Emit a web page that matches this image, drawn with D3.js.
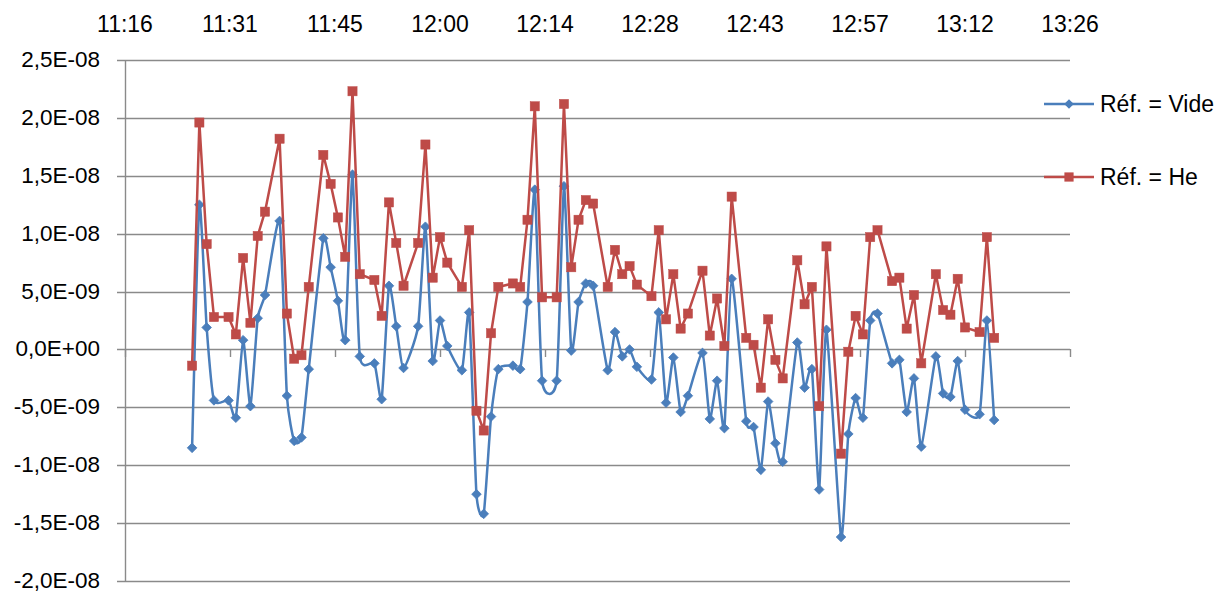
<!DOCTYPE html>
<html><head><meta charset="utf-8">
<script src="https://cdn.jsdelivr.net/npm/d3@7"></script>
<style>body{margin:0;background:#fff}svg{display:block}text{font-family:"Liberation Sans",Arial,sans-serif}</style>
</head><body><svg id="c" width="1217" height="592"></svg>
<script>
// time in minutes since midnight
const times = [686,687,688,689,691,692,693,694,695,696,698,699,700,701,702,704,705,706,707,708,709,711,712,713,714,715,717,718,719,720,721,723,724,725,726,727,728,730,731,732,733,734,736,737,738,739,740,741,743,744,745,746,747,749,750,751,752,753,754,756,757,758,759,760,762,763,764,765,766,767,769,770,771,772,773,775,776,777,778,779,780,782,783,784,785,786,788,789,790,791,792,794,795,796];
const vide = [-8.5e-9,12.5e-9,1.9e-9,-4.4e-9,-4.4e-9,-5.9e-9,0.8e-9,-4.9e-9,2.7e-9,4.7e-9,11.1e-9,-4.0e-9,-7.9e-9,-7.6e-9,-1.7e-9,9.6e-9,7.1e-9,4.2e-9,0.8e-9,15.1e-9,-0.6e-9,-1.2e-9,-4.3e-9,5.5e-9,2.0e-9,-1.6e-9,2.0e-9,10.6e-9,-1.0e-9,2.5e-9,0.3e-9,-1.8e-9,3.2e-9,-12.5e-9,-14.2e-9,-5.8e-9,-1.7e-9,-1.4e-9,-1.7e-9,4.1e-9,13.8e-9,-2.7e-9,-2.7e-9,14.1e-9,-0.1e-9,4.1e-9,5.7e-9,5.5e-9,-1.8e-9,1.5e-9,-0.6e-9,0.0,-1.5e-9,-2.6e-9,3.2e-9,-4.6e-9,-0.7e-9,-5.4e-9,-4.0e-9,-0.3e-9,-6.0e-9,-2.7e-9,-6.8e-9,6.1e-9,-6.2e-9,-6.7e-9,-10.4e-9,-4.5e-9,-8.1e-9,-9.7e-9,0.6e-9,-3.3e-9,-1.7e-9,-12.1e-9,1.7e-9,-16.2e-9,-7.3e-9,-4.2e-9,-5.9e-9,2.5e-9,3.1e-9,-1.2e-9,-0.9e-9,-5.4e-9,-2.5e-9,-8.4e-9,-0.6e-9,-3.8e-9,-4.1e-9,-1.0e-9,-5.2e-9,-5.6e-9,2.5e-9,-6.1e-9];
const he = [-1.4e-9,19.6e-9,9.1e-9,2.8e-9,2.8e-9,1.3e-9,7.9e-9,2.3e-9,9.8e-9,11.9e-9,18.2e-9,3.1e-9,-0.8e-9,-0.5e-9,5.4e-9,16.8e-9,14.3e-9,11.4e-9,8.0e-9,22.3e-9,6.5e-9,6.0e-9,2.9e-9,12.7e-9,9.2e-9,5.5e-9,9.2e-9,17.7e-9,6.2e-9,9.7e-9,7.5e-9,5.4e-9,10.3e-9,-5.3e-9,-7.0e-9,1.4e-9,5.4e-9,5.7e-9,5.4e-9,11.2e-9,21.0e-9,4.5e-9,4.5e-9,21.2e-9,7.1e-9,11.2e-9,12.9e-9,12.6e-9,5.4e-9,8.6e-9,6.5e-9,7.2e-9,5.6e-9,4.6e-9,10.3e-9,2.6e-9,6.5e-9,1.8e-9,3.1e-9,6.8e-9,1.2e-9,4.4e-9,0.3e-9,13.2e-9,1.0e-9,0.4e-9,-3.3e-9,2.6e-9,-0.9e-9,-2.5e-9,7.7e-9,3.9e-9,5.4e-9,-4.9e-9,8.9e-9,-9.0e-9,-0.2e-9,2.9e-9,1.3e-9,9.7e-9,10.3e-9,5.9e-9,6.2e-9,1.8e-9,4.7e-9,-1.2e-9,6.5e-9,3.4e-9,3.0e-9,6.1e-9,1.9e-9,1.5e-9,9.7e-9,1.0e-9];
const xTickLabels = ["11:16","11:31","11:45","12:00","12:14","12:28","12:43","12:57","13:12","13:26"];
const xTickValues = [676.8,691.2,705.6,720,734.4,748.8,763.2,777.6,792,806.4];
const yTickValues = [-2e-8,-1.5e-8,-1e-8,-5e-9,0,5e-9,1e-8,1.5e-8,2e-8,2.5e-8];
const seriesNames = ["Réf. = Vide","Réf. = He"];

const svg = d3.select("#c");
const L=125, R=1070, T=60, B=581;
const x = d3.scaleLinear().domain([xTickValues[0], xTickValues[xTickValues.length-1]]).range([L,R]);
const y = d3.scaleLinear().domain([yTickValues[0], yTickValues[yTickValues.length-1]]).range([B,T]);
const gridC="#8a8a8a";

function fmtY(v){
  if (Math.abs(v)<1e-20) return "0,0E+00";
  const e = Math.floor(Math.log10(Math.abs(v))+1e-9);
  const m = v/Math.pow(10,e);
  return m.toFixed(1).replace(".",",")+"E"+(e<0?"-":"+")+String(Math.abs(e)).padStart(2,"0");
}

// gridlines
svg.append("g").selectAll("line").data(yTickValues).join("line")
  .attr("x1",L-8).attr("x2",R).attr("y1",d=>Math.round(y(d))+0.5).attr("y2",d=>Math.round(y(d))+0.5)
  .attr("stroke",gridC).attr("stroke-width",1.4);
// y axis line
svg.append("line").attr("x1",L+0.5).attr("x2",L+0.5).attr("y1",T).attr("y2",B+0.5).attr("stroke",gridC).attr("stroke-width",1.4);
// x ticks on zero line
svg.append("g").selectAll("line").data(xTickValues).join("line")
  .attr("x1",d=>Math.round(x(d))+0.5).attr("x2",d=>Math.round(x(d))+0.5)
  .attr("y1",Math.round(y(0))).attr("y2",Math.round(y(0))+8)
  .attr("stroke",gridC).attr("stroke-width",1.4);
// y labels
svg.append("g").selectAll("text").data(yTickValues).join("text")
  .attr("x",100).attr("y",d=>y(d)+7).attr("text-anchor","end")
  .attr("font-size",22.5).attr("fill","#000").text(fmtY);
// x labels on top
svg.append("g").selectAll("text").data(xTickValues).join("text")
  .attr("x",d=>x(d)).attr("y",32).attr("text-anchor","middle")
  .attr("font-size",23).attr("fill","#000").text((d,i)=>xTickLabels[i]);

const blue="#4A7EBB", red="#BE4B48";
const dV = times.map((t,i)=>[t,vide[i]]);
const dH = times.map((t,i)=>[t,he[i]]);
const lineSmooth = d3.line().x(d=>x(d[0])).y(d=>y(d[1])).curve(d3.curveCardinal.tension(0.45));
const lineStraight = d3.line().x(d=>x(d[0])).y(d=>y(d[1]));

svg.append("path").attr("d",lineSmooth(dV)).attr("fill","none").attr("stroke",blue).attr("stroke-width",2.5).attr("stroke-linejoin","round");
const dsz=4.8;
svg.append("g").selectAll("path").data(dV).join("path")
  .attr("d",d=>`M${x(d[0])},${y(d[1])-dsz}L${x(d[0])+dsz},${y(d[1])}L${x(d[0])},${y(d[1])+dsz}L${x(d[0])-dsz},${y(d[1])}Z`)
  .attr("fill",blue).attr("stroke",blue).attr("stroke-width",0.8);

svg.append("path").attr("d",lineStraight(dH)).attr("fill","none").attr("stroke",red).attr("stroke-width",2.5).attr("stroke-linejoin","round");
const ssz=4.6;
svg.append("g").selectAll("rect").data(dH).join("rect")
  .attr("x",d=>x(d[0])-ssz).attr("y",d=>y(d[1])-ssz).attr("width",2*ssz).attr("height",2*ssz)
  .attr("fill",red).attr("stroke",red).attr("stroke-width",0.5);

// legend
const lg = svg.append("g");
const ly=[104,177];
[blue,red].forEach((c,i)=>{
  lg.append("line").attr("x1",1044).attr("x2",1094).attr("y1",ly[i]).attr("y2",ly[i]).attr("stroke",c).attr("stroke-width",2.5);
  if(i===0){
    lg.append("path").attr("d",`M1069,${ly[i]-dsz}L${1069+dsz},${ly[i]}L1069,${ly[i]+dsz}L${1069-dsz},${ly[i]}Z`).attr("fill",c);
  } else {
    lg.append("rect").attr("x",1069-ssz).attr("y",ly[i]-ssz).attr("width",2*ssz).attr("height",2*ssz).attr("fill",c);
  }
  lg.append("text").attr("x",1100).attr("y",ly[i]+8).attr("font-size",23).attr("fill","#000").text(seriesNames[i]);
});
</script></body></html>
